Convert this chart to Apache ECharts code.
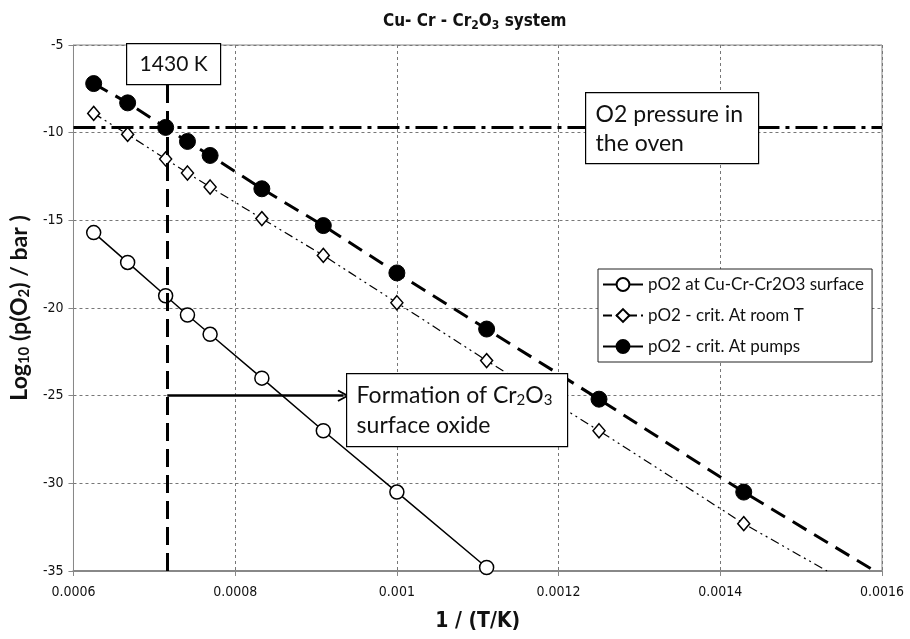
<!DOCTYPE html>
<html>
<head>
<meta charset="utf-8">
<script src="https://cdn.jsdelivr.net/npm/echarts@6/dist/echarts.min.js"></script>
<style>
  html, body { margin: 0; padding: 0; background: #fff; }
  #chart { width: 910px; height: 639px; }
</style>
</head>
<body>
<div id="chart"></div>
<script>
// 1/T values (1/K) of the computed points
var invT = [0.000625, 0.000667, 0.000714, 0.000741, 0.000769, 0.000833, 0.000909, 0.001, 0.001111, 0.00125, 0.001429];
// log10 pO2
var surface = [-15.7, -17.4, -19.3, -20.4, -21.5, -24.0, -27.0, -30.5, -34.8];
var roomT   = [-8.9, -10.1, -11.5, -12.3, -13.1, -14.9, -17.0, -19.7, -23.0, -27.0, -32.3];
var pumps   = [-7.2, -8.3, -9.7, -10.5, -11.3, -13.2, -15.3, -18.0, -21.2, -25.2, -30.5];
// where the trend lines leave the plot at the bottom
var roomTEnd = [0.001532, -35];
var pumpsEnd = [0.001591, -35];
// annotations
var ovenPressure = -9.7;
var line1430 = [[0.000716, -35], [0.000716, -7.2]];
var arrowLine = [[0.000716, -25], [0.000934, -25]];

var seriesNames = ['pO2 at Cu-Cr-Cr2O3 surface', 'pO2 - crit. At room T', 'pO2 - crit. At pumps'];
var xTicks = [0.0006, 0.0016, 0.0002];
var yTicks = [-35, -5, 5];

function pairs(xs, ys, end) {
  var out = [];
  for (var i = 0; i < ys.length; i++) out.push([xs[i], ys[i]]);
  if (end) out.push({ value: end, symbol: 'none' });
  return out;
}

var font = 'Lato, "Open Sans", sans-serif';
var narrow = '"Liberation Sans Narrow", "DejaVu Sans Condensed", Lato, sans-serif';

var myChart = echarts.init(document.getElementById('chart'));
var option = {
  animation: false,
  title: {
    text: 'Cu- Cr - Cr{s|2}O{s|3} system',
    left: 378,
    top: 6,
    textStyle: {
      fontFamily: narrow, fontSize: 17, fontWeight: 'bold', color: '#111',
      rich: { s: { fontSize: 12, fontWeight: 'bold', fontFamily: narrow, padding: [9, 0, 0, 0] } }
    }
  },
  legend: {
    orient: 'vertical',
    left: 598,
    top: 269,
    width: 276,
    padding: [7, 8, 7, 4],
    itemWidth: 40,
    itemHeight: 16,
    itemGap: 14,
    borderColor: '#222',
    borderWidth: 1,
    backgroundColor: '#fff',
    data: seriesNames,
    textStyle: { fontFamily: font, fontSize: 17, color: '#111' }
  },
  grid: {
    show: true,
    left: 73, right: 28, top: 45, bottom: 68,
    borderColor: '#888', borderWidth: 1
  },
  xAxis: {
    type: 'value',
    min: xTicks[0], max: xTicks[1], interval: xTicks[2],
    name: '1 / (T/K)',
    nameLocation: 'middle',
    nameGap: 40,
    nameTextStyle: { fontFamily: narrow, fontSize: 21, fontWeight: 'bold', color: '#111' },
    axisLine: { show: true, lineStyle: { color: '#888', width: 2 } },
    axisTick: { show: true, inside: false, length: 5, lineStyle: { color: '#888' } },
    axisLabel: {
      fontFamily: narrow, fontSize: 14, color: '#111', margin: 14,
      formatter: function (v) { return String(parseFloat(v.toPrecision(6))); }
    },
    splitLine: { show: true, lineStyle: { color: '#777', type: [3, 3], width: 1 } }
  },
  yAxis: {
    type: 'value',
    min: yTicks[0], max: yTicks[1], interval: yTicks[2],
    name: 'Log{s|10} (p(O{s|2}) / bar )',
    nameLocation: 'middle',
    nameGap: 40,
    nameTextStyle: {
      fontFamily: font, fontSize: 23, fontWeight: 'bold', color: '#111',
      rich: { s: { fontSize: 15, fontWeight: 'bold', fontFamily: font, padding: [10, 0, 0, 0] } }
    },
    axisLine: { show: true, lineStyle: { color: '#888', width: 1 } },
    axisTick: { show: true, length: 5, lineStyle: { color: '#888' } },
    axisLabel: { fontFamily: narrow, fontSize: 14, color: '#111', margin: 10 },
    splitLine: { show: true, lineStyle: { color: '#777', type: [3, 3], width: 1 } }
  },
  series: [
    {
      name: seriesNames[0],
      type: 'line',
      data: pairs(invT, surface),
      symbol: 'circle',
      symbolSize: 14,
      itemStyle: { color: '#fff', borderColor: '#000', borderWidth: 1.5 },
      lineStyle: { color: '#000', width: 1.5 },
      z: 3,
      markLine: {
        silent: true,
        symbol: 'none',
        label: { show: false },
        data: [
          [{ coord: line1430[0] }, { coord: line1430[1] }]
        ],
        lineStyle: { color: '#000', width: 3, type: [18, 8] }
      }
    },
    {
      name: seriesNames[1],
      type: 'line',
      data: pairs(invT, roomT, roomTEnd),
      symbol: 'diamond',
      symbolSize: [12, 14],
      itemStyle: { color: '#fff', borderColor: '#000', borderWidth: 1.5 },
      lineStyle: { color: '#000', width: 1.2, type: [9, 4, 2, 4, 2, 4] },
      z: 3,
      markLine: {
        silent: true,
        symbol: ['none', 'path://M0,12 L6,0 L12,12 L10.5,13 L6,4 L1.5,13 Z'],
        symbolSize: [12, 12],
        label: { show: false },
        data: [
          [{ coord: arrowLine[0] }, { coord: arrowLine[1] }]
        ],
        lineStyle: { color: '#000', width: 2.5, type: 'solid' }
      }
    },
    {
      name: seriesNames[2],
      type: 'line',
      data: pairs(invT, pumps, pumpsEnd),
      symbol: 'circle',
      symbolSize: 16,
      itemStyle: { color: '#000', borderColor: '#000', borderWidth: 1 },
      lineStyle: { color: '#000', width: 3, type: [16, 9] },
      z: 4,
      markLine: {
        silent: true,
        symbol: 'none',
        label: { show: false },
        data: [{ yAxis: ovenPressure }],
        lineStyle: { color: '#000', width: 3, type: [22, 6, 4, 6] }
      }
    }
  ],
  graphic: [
    {
      type: 'group', left: 126, top: 43, z: 100,
      children: [
        { type: 'rect', z: 100, shape: { x: 0, y: 0, width: 94, height: 41 }, style: { fill: '#fff', stroke: '#000', lineWidth: 1.2 } },
        { type: 'text', z: 101, x: 47, y: 21, style: { text: '1430 K', fontFamily: font, fontSize: 21, fill: '#111', align: 'center', verticalAlign: 'middle' } }
      ]
    },
    {
      type: 'group', left: 585, top: 92, z: 100,
      children: [
        { type: 'rect', z: 100, shape: { x: 0, y: 0, width: 173, height: 71 }, style: { fill: '#fff', stroke: '#000', lineWidth: 1.2 } },
        { type: 'text', z: 101, x: 10, y: 36, style: { text: 'O2 pressure in\nthe oven', fontFamily: font, fontSize: 23, lineHeight: 29, fill: '#111', align: 'left', verticalAlign: 'middle' } }
      ]
    },
    {
      type: 'group', left: 346, top: 373, z: 100,
      children: [
        { type: 'rect', z: 100, shape: { x: 0, y: 0, width: 221, height: 73 }, style: { fill: '#fff', stroke: '#000', lineWidth: 1.2 } },
        {
          type: 'text', z: 101, x: 10, y: 37,
          style: {
            text: 'Formation of Cr{s|2}O{s|3}\nsurface oxide',
            fontFamily: font, fontSize: 23, lineHeight: 30, fill: '#111', align: 'left', verticalAlign: 'middle',
            rich: { s: { fontFamily: font, fontSize: 15, fill: '#111', padding: [10, 0, 0, 0] } }
          }
        }
      ]
    }
  ]
};
myChart.setOption(option);
</script>
</body>
</html>
